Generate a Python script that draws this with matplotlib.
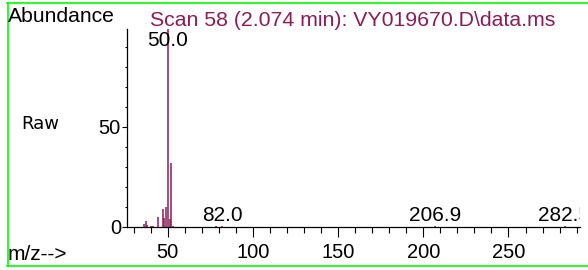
import matplotlib
matplotlib.use("Agg")
import matplotlib.pyplot as plt
from matplotlib.ticker import MultipleLocator
from matplotlib.lines import Line2D

# spectrum (m/z, abundance in % of base peak)
mz = [36, 37, 38, 40, 41, 44, 47, 48, 49, 50, 51, 52, 53, 78, 82, 207, 283]
abund = [1.7, 3.0, 1.0, 0.5, 0.6, 5.0, 9.0, 4.5, 10.0, 100.0, 4.0, 32.0, 0.5, 0.3, 0.3, 0.3, 0.3]

# labelled peaks
label_mz = [50.0, 82.0, 206.9, 282.5]
label_y = [88.5, 1.2, 1.2, 1.2]
label_txt = ["50.0", "82.0", "206.9", "282.5"]

xticks = [50, 100, 150, 200, 250]
title = "Scan 58 (2.074 min): VY019670.D\\data.ms"

W, H = 588, 270
dpi = 100
purple = "#8B1C55"
green = "#00FF00"
font = "Liberation Sans"

fig = plt.figure(figsize=(W / dpi, H / dpi), dpi=dpi)
ax = fig.add_axes([127 / W, 1 - 227 / H, (580 - 127) / W, (227 - 29) / H])

ax.vlines(mz, 0, abund, colors=purple, linewidth=1.1)

# peak labels are clipped at the axes edge like the original (282.5 is cut)
for x, y, t in zip(label_mz, label_y, label_txt):
    ax.text(x, y, t, ha="center", va="bottom", fontsize=15,
            family=font, clip_on=True)

ax.set_xlim(26, 292)
ax.set_ylim(0, 99)

for s in ("top", "right"):
    ax.spines[s].set_visible(False)
for s in ("left", "bottom"):
    ax.spines[s].set_linewidth(0.9)

ax.set_xticks(xticks)
ax.xaxis.set_minor_locator(MultipleLocator(10))
ax.set_yticks([0, 50])
ax.yaxis.set_minor_locator(MultipleLocator(10))

ax.tick_params(axis="x", which="major", direction="out", length=7.2, width=0.8,
               pad=4.5, labelsize=14.5)
ax.tick_params(axis="x", which="minor", direction="out", length=4.3, width=0.8)
ax.tick_params(axis="y", which="major", direction="out", length=3.4, width=0.8,
               pad=1, labelsize=14.5)
ax.tick_params(axis="y", which="minor", direction="out", length=1.4, width=0.8)
for lbl in ax.get_xticklabels() + ax.get_yticklabels():
    lbl.set_family(font)

# header texts
fig.text(8 / W, 1 - 22 / H, "Abundance", fontsize=15.2, family=font, va="baseline")
fig.text(150 / W, 1 - 26 / H, title, fontsize=15.3, family=font, color=purple, va="baseline")
fig.text(21 / W, 1 - 129 / H, "Raw", fontsize=13, family="DejaVu Sans", va="baseline")
fig.text(8 / W, 1 - 260 / H, "m/z-->", fontsize=15, family=font, va="baseline")

# green frame (no right edge)
fig.add_artist(Line2D([7 / W, 1.01], [1 - 2.5 / H, 1 - 2.5 / H], color=green, lw=1.2))
fig.add_artist(Line2D([7.5 / W, 7.5 / W], [1 - 2.5 / H, 1 - 266 / H], color=green, lw=1.2))
fig.add_artist(Line2D([7 / W, 1.01], [1 - 266 / H, 1 - 266 / H], color=green, lw=1.2))

fig.savefig("out.png", dpi=dpi)
